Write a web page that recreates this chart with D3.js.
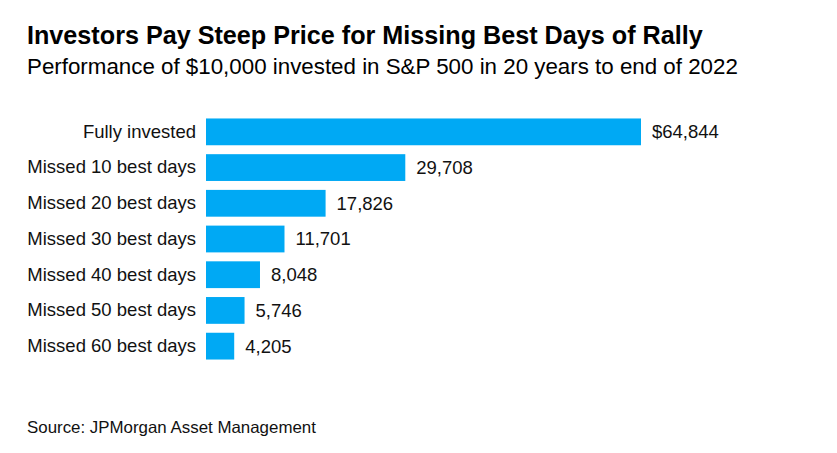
<!DOCTYPE html>
<html><head><meta charset="utf-8">
<script src="https://cdn.jsdelivr.net/npm/d3@7/dist/d3.min.js"></script>
<style>body{margin:0;background:#fff;} svg{display:block;font-family:"Liberation Sans",Arial,sans-serif;}</style>
</head><body>
<svg id="chart" width="837" height="453"></svg>
<script>
const categories = ["Fully invested","Missed 10 best days","Missed 20 best days","Missed 30 best days","Missed 40 best days","Missed 50 best days","Missed 60 best days"];
const values = [64844, 29708, 17826, 11701, 8048, 5746, 4205];
const valueLabels = ["$64,844","29,708","17,826","11,701","8,048","5,746","4,205"];
const title = "Investors Pay Steep Price for Missing Best Days of Rally";
const subtitle = "Performance of $10,000 invested in S&P 500 in 20 years to end of 2022";
const source = "Source: JPMorgan Asset Management";

const svg = d3.select("#chart");
svg.append("rect").attr("width",837).attr("height",453).attr("fill","#fff");

function fitText(sel, w){
  const l = sel.node().getComputedTextLength();
  const fs = parseFloat(sel.attr("font-size"));
  sel.attr("font-size", fs * w / l);
}

const t = svg.append("text").attr("x",27).attr("y",44).attr("font-size",22).attr("font-weight","bold").attr("fill","#000").text(title);
fitText(t, 676);
const st = svg.append("text").attr("x",27).attr("y",74).attr("font-size",19).attr("fill","#000").text(subtitle);
fitText(st, 711);

const x = d3.scaleLinear().domain([0, 64844]).range([206, 641]);
const y = d3.scaleBand().domain(categories).range([114, 364]).paddingInner(0.25).paddingOuter(0.125);

svg.append("g").selectAll("rect").data(values).join("rect")
  .attr("x", x(0)).attr("y", (d,i)=>y(categories[i]))
  .attr("width", d=>x(d)-x(0)).attr("height", y.bandwidth())
  .attr("fill","#00a9f4");

const yAxis = svg.append("g").attr("transform",`translate(${x(0)},0)`)
  .call(d3.axisLeft(y).tickSize(0).tickPadding(10));
yAxis.select(".domain").remove();
yAxis.selectAll("text").attr("font-size",18.5).attr("fill","#111").attr("font-family","Liberation Sans, Arial, sans-serif");

svg.append("g").selectAll("text").data(values).join("text")
  .attr("x", d=>x(d)+11).attr("y",(d,i)=>y(categories[i])+y.bandwidth()/2)
  .attr("dy","0.35em").attr("font-size",18.5).attr("fill","#111")
  .text((d,i)=>valueLabels[i]);

const s = svg.append("text").attr("x",27).attr("y",433).attr("font-size",15).attr("fill","#111").text(source);
fitText(s, 289);
</script>
</body></html>
